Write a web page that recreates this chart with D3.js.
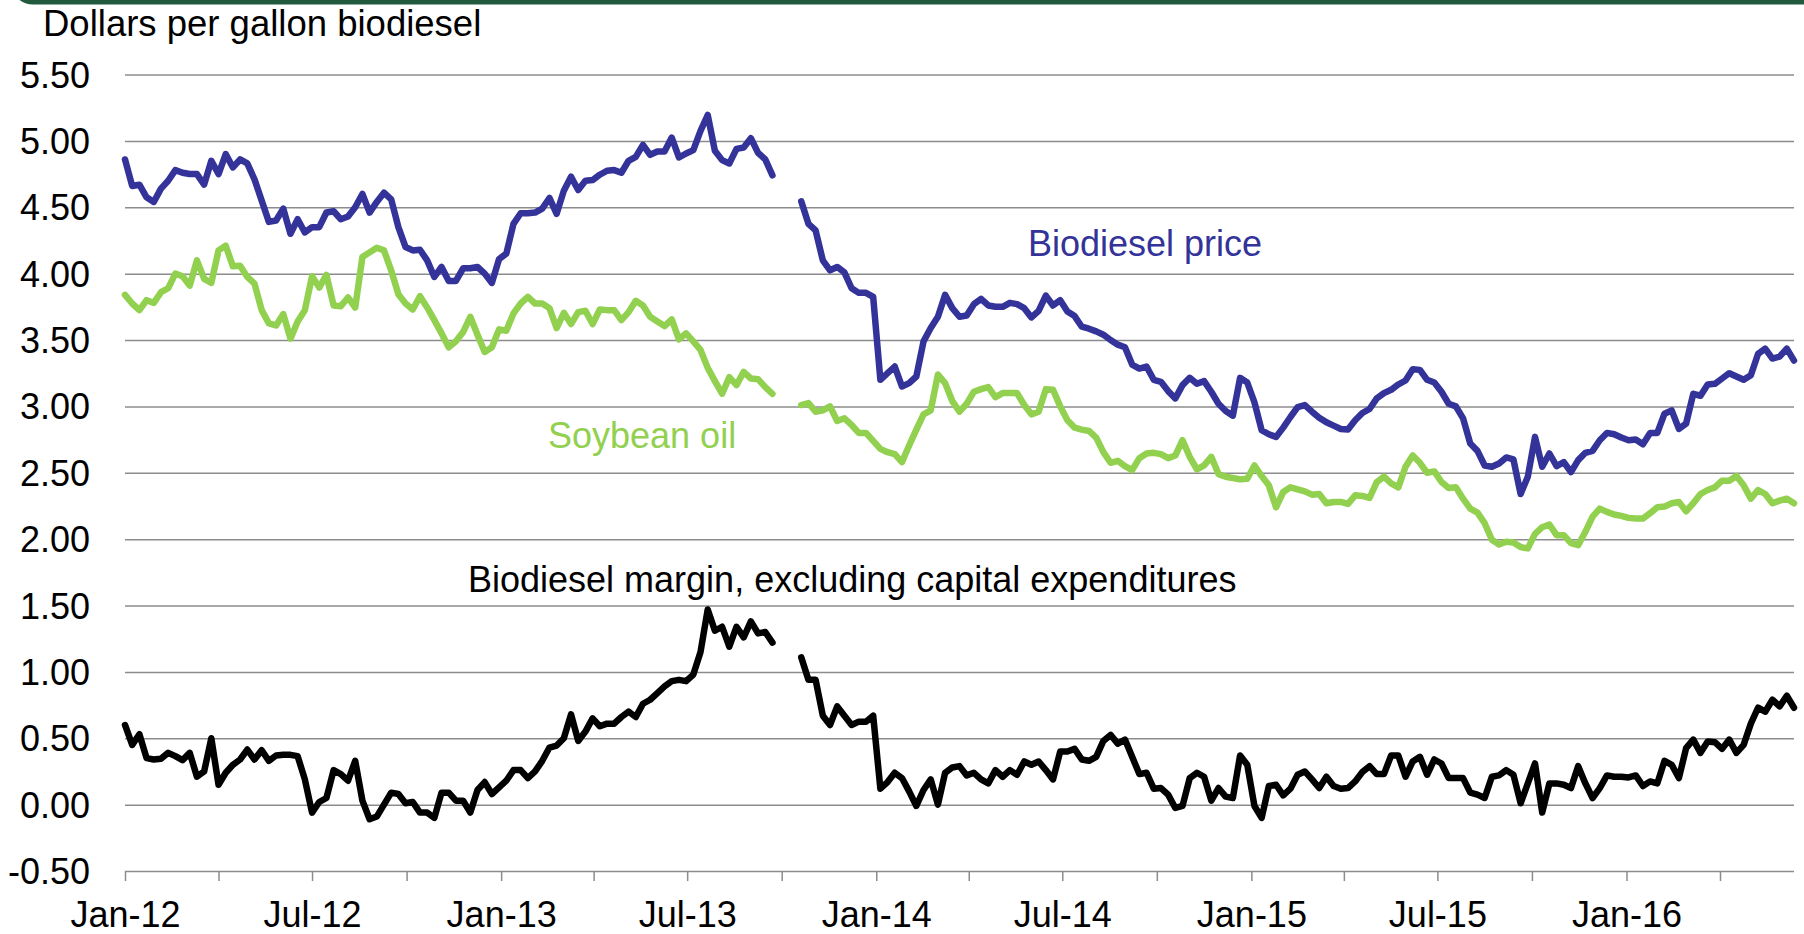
<!DOCTYPE html>
<html>
<head>
<meta charset="utf-8">
<style>
body { margin: 0; background: #fff; }
svg { display: block; font-family: "Liberation Sans", Arial, sans-serif; }
.grid line { stroke: #8c8c8c; stroke-width: 1.5; }
.axis text { font-size: 36px; fill: #000; }
.axis line { stroke: #8c8c8c; stroke-width: 1.5; }
.axis path { display: none; }
.series { fill: none; stroke-width: 6.5; stroke-linejoin: round; stroke-linecap: round; }
.label { font-size: 36px; }
</style>
</head>
<body>
<svg width="1804" height="934"></svg>
<script src="https://cdn.jsdelivr.net/npm/d3@7"></script>
<script>
// weekly observations, first week = Jan 1 2012; null = no data (Oct 2013)
var firstWeek = new Date(2012, 0, 1);

var biodieselPrice = [
  4.86,4.66,4.67,4.575,4.54,4.64,4.70,4.78,4.76,4.75,
  4.75,4.67,4.85,4.75,4.90,4.80,4.86,4.83,4.71,4.55,
  4.39,4.40,4.49,4.30,4.41,4.31,4.35,4.35,4.46,4.47,
  4.41,4.43,4.50,4.60,4.46,4.54,4.61,4.56,4.35,4.20,
  4.175,4.18,4.10,3.975,4.05,3.945,3.945,4.04,4.04,4.05,
  4.00,3.93,4.11,4.15,4.375,4.455,4.455,4.46,4.49,4.57,
  4.45,4.625,4.73,4.63,4.70,4.705,4.745,4.775,4.78,4.76,
  4.85,4.88,4.97,4.895,4.92,4.92,5.025,4.875,4.905,4.93,
  5.075,5.195,4.925,4.855,4.83,4.94,4.95,5.02,4.91,4.86,
  4.74,null,null,null,4.545,4.375,4.325,4.10,4.025,4.05,
  4.01,3.89,3.855,3.855,3.825,3.20,3.25,3.30,3.15,3.175,
  3.225,3.49,3.59,3.675,3.84,3.74,3.675,3.685,3.77,3.81,
  3.76,3.75,3.75,3.78,3.77,3.74,3.67,3.72,3.835,3.76,
  3.80,3.715,3.68,3.60,3.585,3.565,3.54,3.50,3.465,3.445,
  3.315,3.285,3.30,3.20,3.185,3.115,3.06,3.16,3.215,3.17,
  3.19,3.11,3.02,2.965,2.93,3.215,3.18,3.03,2.82,2.79,
  2.77,2.84,2.92,2.995,3.01,2.96,2.915,2.88,2.855,2.83,
  2.825,2.895,2.95,2.98,3.06,3.10,3.125,3.165,3.195,3.28,
  3.275,3.20,3.18,3.11,3.02,3.00,2.91,2.72,2.665,2.555,
  2.545,2.57,2.615,2.60,2.34,2.47,2.77,2.545,2.645,2.55,
  2.58,2.505,2.595,2.65,2.665,2.745,2.80,2.79,2.765,2.745,
  2.75,2.715,2.80,2.80,2.945,2.97,2.83,2.87,3.095,3.08,
  3.165,3.17,3.21,3.25,3.225,3.20,3.235,3.395,3.435,3.36,
  3.375,3.435,3.345
];

var soybeanOil = [
  3.84,3.775,3.725,3.80,3.78,3.86,3.89,4.00,3.98,3.91,
  4.10,3.96,3.93,4.175,4.21,4.055,4.06,3.975,3.925,3.725,
  3.625,3.61,3.695,3.51,3.64,3.725,3.98,3.895,3.99,3.76,
  3.755,3.82,3.745,4.125,4.16,4.195,4.175,4.025,3.845,3.775,
  3.73,3.83,3.745,3.65,3.55,3.445,3.49,3.56,3.675,3.54,
  3.41,3.445,3.58,3.57,3.70,3.775,3.825,3.775,3.775,3.74,
  3.59,3.705,3.62,3.71,3.72,3.62,3.73,3.725,3.725,3.65,
  3.71,3.795,3.76,3.675,3.64,3.605,3.655,3.505,3.55,3.49,
  3.425,3.29,3.19,3.095,3.22,3.16,3.26,3.21,3.205,3.145,
  3.095,null,null,null,3.01,3.025,2.96,2.97,3.00,2.89,
  2.91,2.86,2.80,2.80,2.74,2.68,2.655,2.64,2.58,2.705,
  2.825,2.94,2.97,3.24,3.175,3.04,2.96,3.02,3.11,3.13,
  3.145,3.07,3.10,3.10,3.10,3.01,2.94,2.96,3.13,3.125,
  3.00,2.895,2.84,2.825,2.815,2.765,2.655,2.575,2.59,2.55,
  2.52,2.61,2.645,2.65,2.64,2.61,2.63,2.745,2.62,2.525,
  2.555,2.62,2.49,2.47,2.46,2.45,2.455,2.555,2.475,2.405,
  2.24,2.355,2.39,2.375,2.36,2.335,2.34,2.27,2.28,2.28,
  2.265,2.33,2.325,2.31,2.43,2.47,2.42,2.39,2.545,2.63,
  2.575,2.50,2.51,2.43,2.385,2.39,2.305,2.23,2.20,2.12,
  1.995,1.96,1.98,1.975,1.94,1.93,2.04,2.09,2.11,2.03,
  2.03,1.97,1.955,2.055,2.17,2.23,2.205,2.185,2.175,2.16,
  2.155,2.155,2.195,2.24,2.245,2.27,2.28,2.21,2.27,2.34,
  2.37,2.39,2.44,2.44,2.475,2.405,2.305,2.37,2.34,2.27,
  2.29,2.305,2.27
];

var biodieselMargin = [
  0.60,0.45,0.53,0.35,0.34,0.345,0.39,0.365,0.335,0.39,
  0.21,0.25,0.50,0.15,0.24,0.30,0.34,0.415,0.34,0.41,
  0.33,0.37,0.375,0.375,0.365,0.19,-0.06,0.02,0.05,0.26,
  0.23,0.18,0.33,0.03,-0.11,-0.09,0.00,0.09,0.08,0.01,
  0.02,-0.06,-0.06,-0.10,0.09,0.09,0.03,0.03,-0.06,0.11,
  0.17,0.08,0.13,0.18,0.26,0.26,0.20,0.25,0.33,0.43,
  0.445,0.50,0.68,0.48,0.55,0.65,0.59,0.61,0.61,0.66,
  0.70,0.66,0.76,0.79,0.84,0.89,0.93,0.94,0.93,0.98,
  1.15,1.47,1.31,1.34,1.19,1.34,1.26,1.38,1.29,1.30,
  1.22,null,null,null,1.11,0.94,0.94,0.67,0.60,0.74,
  0.67,0.60,0.625,0.625,0.67,0.12,0.17,0.24,0.20,0.10,
  -0.01,0.11,0.19,0.00,0.24,0.28,0.29,0.22,0.24,0.19,
  0.16,0.26,0.21,0.26,0.225,0.325,0.30,0.325,0.26,0.19,
  0.40,0.40,0.42,0.34,0.33,0.36,0.48,0.525,0.46,0.49,
  0.36,0.23,0.24,0.12,0.125,0.075,-0.025,-0.01,0.20,0.24,
  0.21,0.03,0.125,0.06,0.05,0.37,0.30,-0.01,-0.10,0.14,
  0.15,0.07,0.12,0.225,0.25,0.19,0.125,0.21,0.14,0.12,
  0.125,0.175,0.245,0.29,0.23,0.23,0.37,0.37,0.21,0.325,
  0.36,0.225,0.34,0.31,0.20,0.20,0.20,0.09,0.075,0.05,
  0.21,0.22,0.26,0.225,0.01,0.16,0.31,-0.06,0.16,0.16,
  0.15,0.125,0.29,0.16,0.05,0.125,0.22,0.21,0.21,0.205,
  0.22,0.14,0.175,0.16,0.33,0.30,0.20,0.425,0.49,0.39,
  0.475,0.47,0.42,0.49,0.39,0.45,0.61,0.73,0.70,0.79,
  0.74,0.82,0.73
];

var yTicks = [-0.5, 0, 0.5, 1, 1.5, 2, 2.5, 3, 3.5, 4, 4.5, 5, 5.5];

var weeks = biodieselPrice.map(function(d, i) { return d3.timeDay.offset(firstWeek, 7 * i); });

var svg = d3.select("svg");
var plotLeft = 125, plotRight = 1794, plotTop = 74.5, plotBottom = 871;

// top banner
svg.append("rect")
  .attr("x", 13).attr("y", -30)
  .attr("width", 1830).attr("height", 34.5)
  .attr("rx", 20)
  .attr("fill", "#215a3c");

var x = d3.scaleTime()
  .domain([firstWeek, weeks[weeks.length - 1]])
  .range([plotLeft, plotRight]);

var y = d3.scaleLinear()
  .domain([-0.5, 5.5])
  .range([plotBottom, plotTop]);

// gridlines + y labels
svg.append("g")
  .attr("class", "axis grid")
  .attr("transform", "translate(" + plotLeft + ",0)")
  .call(d3.axisLeft(y)
    .tickValues(yTicks)
    .tickSize(-(plotRight - plotLeft))
    .tickPadding(35)
    .tickFormat(function(d) { return d.toFixed(2); }))
  .selectAll("text").attr("dy", "0.35em");

// x axis: quarterly ticks, labels every half year
var quarters = d3.timeMonth.every(3).range(firstWeek, x.domain()[1]);
var fmt = d3.timeFormat("%b-%y");
svg.append("g")
  .attr("class", "axis")
  .attr("transform", "translate(0," + plotBottom + ")")
  .call(d3.axisBottom(x)
    .tickValues(quarters)
    .tickSize(10)
    .tickPadding(20)
    .tickFormat(function(d) { return d.getMonth() % 6 == 0 ? fmt(d) : ""; }));

var line = function(values) {
  return d3.line()
    .defined(function(d, i) { return values[i] != null; })
    .x(function(d) { return x(d); })
    .y(function(d, i) { return y(values[i]); })(weeks);
};

svg.append("path").attr("class", "series")
  .attr("stroke", "#333399").attr("d", line(biodieselPrice));
svg.append("path").attr("class", "series")
  .attr("stroke", "#92d050").attr("d", line(soybeanOil));
svg.append("path").attr("class", "series")
  .attr("stroke", "#000").attr("d", line(biodieselMargin));

// text
svg.append("text").attr("class", "label")
  .attr("x", 43).attr("y", 36)
  .style("font-size", "36.5px")
  .text("Dollars per gallon biodiesel");

svg.append("text").attr("class", "label")
  .attr("x", 1028).attr("y", 256)
  .attr("fill", "#333399")
  .text("Biodiesel price");

svg.append("text").attr("class", "label")
  .attr("x", 548).attr("y", 448)
  .attr("fill", "#92d050")
  .text("Soybean oil");

svg.append("text").attr("class", "label")
  .attr("x", 468).attr("y", 592)
  .text("Biodiesel margin, excluding capital expenditures");
</script>
</body>
</html>
